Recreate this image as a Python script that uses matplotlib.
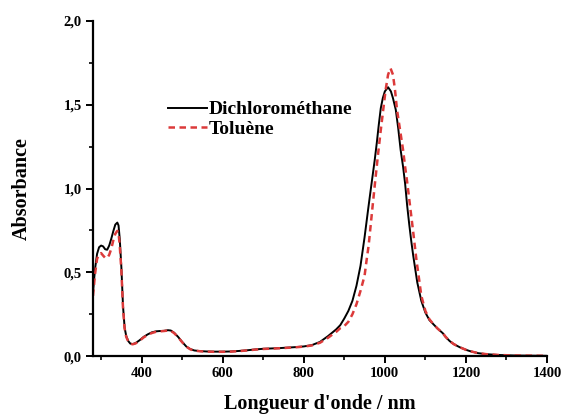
import matplotlib
matplotlib.use("Agg")
import matplotlib.pyplot as plt
from matplotlib.ticker import MultipleLocator, FixedLocator, FixedFormatter

plt.rcParams['font.family'] = ['Liberation Serif', 'DejaVu Serif']
plt.rcParams['font.weight'] = 'bold'

# Dichloromethane spectrum (wavelength nm, absorbance)
wl_dcm = [280, 285, 290, 295, 300, 305, 310, 315, 320, 325, 330, 335, 340, 343, 346, 350, 354, 358, 362, 367,
          372, 378, 385, 395, 405, 415, 425, 435, 445, 455, 465, 472, 480, 490, 500, 510, 520, 530, 545, 560,
          580, 600, 620, 640, 660, 680, 700, 720, 740, 760, 780, 800, 820, 840, 860, 870, 880, 890, 900, 910,
          920, 930, 940, 950, 959, 965, 970, 975, 980, 985, 990, 995, 1000, 1008, 1015, 1020, 1027, 1033,
          1039, 1045, 1050, 1055, 1060, 1065, 1070, 1075, 1080, 1090, 1100, 1110, 1120, 1130, 1143, 1150,
          1160, 1170, 1185, 1200, 1210, 1230, 1250, 1280, 1320, 1360, 1400]
abs_dcm = [0.38, 0.52, 0.61, 0.65, 0.66, 0.655, 0.638, 0.635, 0.66, 0.70, 0.745, 0.785, 0.797, 0.78, 0.70,
           0.53, 0.30, 0.17, 0.12, 0.09, 0.075, 0.072, 0.078, 0.095, 0.115, 0.13, 0.142, 0.148, 0.150, 0.151,
           0.155, 0.153, 0.14, 0.115, 0.085, 0.058, 0.042, 0.034, 0.030, 0.028, 0.027, 0.027, 0.028, 0.031,
           0.035, 0.040, 0.044, 0.046, 0.048, 0.051, 0.054, 0.058, 0.066, 0.085, 0.12, 0.14, 0.16, 0.185,
           0.225, 0.27, 0.33, 0.42, 0.54, 0.71, 0.88, 0.99, 1.08, 1.17, 1.27, 1.38, 1.48, 1.54, 1.58, 1.605,
           1.58, 1.54, 1.47, 1.36, 1.23, 1.13, 1.03, 0.90, 0.79, 0.69, 0.60, 0.52, 0.44, 0.33, 0.26, 0.215,
           0.19, 0.165, 0.137, 0.115, 0.09, 0.072, 0.053, 0.038, 0.030, 0.018, 0.012, 0.007, 0.004, 0.003,
           0.002]

# Toluene spectrum (wavelength nm, absorbance)
wl_tol = [280, 285, 290, 295, 300, 305, 310, 315, 320, 325, 330, 335, 340, 343, 346, 350, 354, 358, 362, 367,
          372, 378, 385, 395, 405, 415, 425, 435, 445, 455, 465, 472, 480, 490, 500, 510, 520, 530, 545, 560,
          580, 600, 620, 640, 660, 680, 700, 720, 740, 760, 780, 800, 820, 840, 860, 870, 880, 890, 900, 910,
          920, 930, 940, 950, 955, 960, 965, 970, 976, 983, 990, 996, 1002, 1008, 1014, 1020, 1025, 1030,
          1035, 1040, 1045, 1050, 1055, 1062, 1066, 1070, 1078, 1085, 1090, 1100, 1110, 1120, 1130, 1143,
          1150, 1160, 1170, 1185, 1200, 1210, 1230, 1250, 1280, 1320, 1360, 1400]
abs_tol = [0.36, 0.49, 0.58, 0.61, 0.615, 0.60, 0.587, 0.585, 0.605, 0.64, 0.69, 0.73, 0.748, 0.735, 0.66,
           0.51, 0.29, 0.165, 0.115, 0.088, 0.074, 0.071, 0.076, 0.092, 0.112, 0.127, 0.138, 0.145, 0.148,
           0.150, 0.153, 0.151, 0.138, 0.113, 0.083, 0.057, 0.041, 0.033, 0.029, 0.027, 0.026, 0.026, 0.027,
           0.030, 0.034, 0.039, 0.043, 0.045, 0.047, 0.050, 0.053, 0.057, 0.064, 0.080, 0.11, 0.128, 0.145,
           0.167, 0.18, 0.205, 0.25, 0.31, 0.39, 0.48, 0.573, 0.66, 0.78, 0.90, 1.04, 1.20, 1.35, 1.47, 1.59,
           1.68, 1.718, 1.68, 1.59, 1.47, 1.39, 1.31, 1.23, 1.13, 1.04, 0.90, 0.82, 0.74, 0.573, 0.45, 0.36,
           0.27, 0.22, 0.19, 0.165, 0.137, 0.115, 0.09, 0.072, 0.053, 0.038, 0.030, 0.018, 0.012, 0.007,
           0.004, 0.003, 0.002]

labels = ['Dichlorométhane', 'Toluène']
xticks = [400, 600, 800, 1000, 1200, 1400]
xtick_labels = ['400', '600', '800', '1000', '1200', '1400']
yticks = [0.0, 0.5, 1.0, 1.5, 2.0]
ytick_labels = ['0,0', '0,5', '1,0', '1,5', '2,0']

fig = plt.figure(figsize=(5.65, 4.2), dpi=100)
ax = fig.add_axes([0.1646, 0.152, 0.8035, 0.798])

ax.plot(wl_dcm, abs_dcm, color='black', lw=1.4, label=labels[0])
ax.plot(wl_tol, abs_tol, color='#dc3a3a', lw=1.8, ls=(0, (2.6, 1.8)), label=labels[1])

ax.set_xlim(280, 1400)
ax.set_ylim(0, 2.0)
ax.xaxis.set_major_locator(FixedLocator(xticks))
ax.xaxis.set_major_formatter(FixedFormatter(xtick_labels))
ax.xaxis.set_minor_locator(MultipleLocator(100))
ax.yaxis.set_major_locator(FixedLocator(yticks))
ax.yaxis.set_major_formatter(FixedFormatter(ytick_labels))
ax.yaxis.set_minor_locator(MultipleLocator(0.25))

for s in ['top', 'right']:
    ax.spines[s].set_visible(False)
for s in ['left', 'bottom']:
    ax.spines[s].set_linewidth(1.6)

ax.tick_params(which='major', direction='out', length=5, width=1.4, labelsize=10.5, pad=3)
ax.tick_params(which='minor', direction='out', length=3, width=1.2)
for t in ax.get_xticklabels() + ax.get_yticklabels():
    t.set_fontweight('bold')

ax.set_xlabel("Longueur d'onde / nm", fontsize=14.5, fontweight='bold', labelpad=10)
ax.set_ylabel('Absorbance', fontsize=14.5, fontweight='bold', labelpad=23)

leg = ax.legend(loc='upper left', bbox_to_anchor=(0.165, 0.762), frameon=False,
                prop={'family': 'Liberation Serif', 'weight': 'bold', 'size': 14},
                handlelength=2.0, handletextpad=0.1, labelspacing=0.1, borderpad=0, borderaxespad=0)

fig.savefig('out.png', dpi=100)
